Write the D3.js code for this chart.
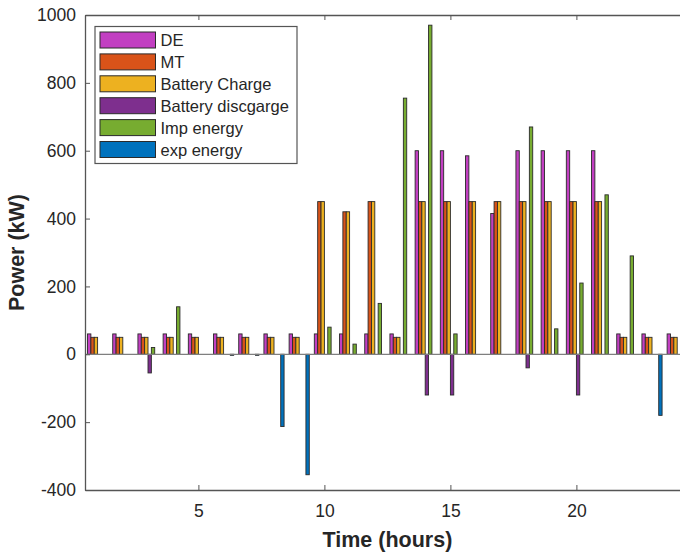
<!DOCTYPE html>
<html>
<head>
<meta charset="utf-8">
<script src="https://cdn.jsdelivr.net/npm/d3@7"></script>
<style>
  html, body { margin: 0; padding: 0; background: #fff; }
  svg text { font-family: "Liberation Sans", Arial, Helvetica, sans-serif; fill: #262626; }
</style>
</head>
<body>
<svg id="chart" width="680" height="554"></svg>
<script>
// Hourly power dispatch (kW), hours 1..24
const hours = d3.range(1, 25);
const seriesNames = ["DE", "MT", "Battery Charge", "Battery discgarge", "Imp energy", "exp energy"];
const seriesColors = ["#c23fc2", "#d95319", "#edb120", "#7e2f8e", "#77ac30", "#0072bd"];

const deValues   = [60, 60, 60, 60, 60, 60, 60, 60, 60, 60, 60, 60, 60, 600, 600, 585, 415, 600, 600, 600, 600, 60, 60, 60];
const mtValues   = [50, 50, 50, 50, 50, 50, 50, 50, 50, 450, 420, 450, 50, 450, 450, 450, 450, 450, 450, 450, 450, 50, 50, 50];
const chgValues  = [50, 50, 50, 50, 50, 50, 50, 50, 50, 450, 420, 450, 50, 450, 450, 450, 450, 450, 450, 450, 450, 50, 50, 50];
const disValues  = [0, 0, -55, 0, 0, 0, 0, 0, 0, 0, 0, 0, 0, -120, -120, 0, 0, -40, 0, -120, 0, 0, 0, 0];
const impValues  = [0, 0, 20, 140, 0, 0, 0, 0, 0, 80, 30, 150, 755, 970, 60, 0, 0, 670, 75, 210, 470, 290, 0, 0];
const expValues  = [0, 0, 0, 0, 0, -3, -3, -213, -355, 0, 0, 0, 0, 0, 0, 0, 0, 0, 0, 0, 0, 0, -180, 0];

const xTicks = [5, 10, 15, 20];
const yTicks = [-400, -200, 0, 200, 400, 600, 800, 1000];

const allSeries = [deValues, mtValues, chgValues, disValues, impValues, expValues];

const svg = d3.select("#chart");
const plotLeft = 85, plotRight = 689.8, plotTop = 15, plotBottom = 490;

const x = d3.scaleLinear().domain([0.5, 24.5]).range([plotLeft, plotRight]);
const y = d3.scaleLinear().domain([-400, 1000]).range([plotBottom, plotTop]);

// grouped bar geometry: group spans 0.8 of an hour, split evenly among series
const groupWidth = 0.8;
const slot = groupWidth / seriesNames.length;

const plot = svg.append("g");

allSeries.forEach((vals, si) => {
  plot.append("g")
    .selectAll("rect")
    .data(hours.map((h, i) => ({ h, v: vals[i] })).filter(d => d.v !== 0))
    .join("rect")
    .attr("x", d => x(d.h - groupWidth / 2 + si * slot))
    .attr("width", d => x(d.h - groupWidth / 2 + (si + 1) * slot) - x(d.h - groupWidth / 2 + si * slot))
    .attr("y", d => y(Math.max(0, d.v)))
    .attr("height", d => Math.abs(y(d.v) - y(0)))
    .attr("fill", seriesColors[si])
    .attr("stroke", "#2b2b2b")
    .attr("stroke-width", 0.9);
});

// baseline at zero
svg.append("line")
  .attr("x1", plotLeft).attr("x2", plotRight)
  .attr("y1", y(0)).attr("y2", y(0))
  .attr("stroke", "#7f7f7f").attr("stroke-width", 1.2);

// axes (ticks point inward), plain integer labels with ASCII minus
const plainNum = d => String(d);
const axisColor = "#555";
const yAxis = svg.append("g")
  .attr("transform", `translate(${plotLeft},0)`)
  .call(d3.axisLeft(y).tickValues(yTicks).tickFormat(plainNum).tickSizeInner(-5).tickSizeOuter(0).tickPadding(9));
const xAxis = svg.append("g")
  .attr("transform", `translate(0,${plotBottom})`)
  .call(d3.axisBottom(x).tickValues(xTicks).tickFormat(plainNum).tickSizeInner(-5).tickSizeOuter(0).tickPadding(15));
const xTop = svg.append("g")
  .attr("transform", `translate(0,${plotTop})`)
  .call(d3.axisTop(x).tickValues(xTicks).tickSizeInner(-5).tickSizeOuter(0).tickFormat(""));

[yAxis, xAxis, xTop].forEach(g => {
  g.select(".domain").attr("stroke", axisColor).attr("stroke-width", 1.3);
  g.selectAll(".tick line").attr("stroke", axisColor).attr("stroke-width", 1);
  g.selectAll(".tick text").attr("fill", "#262626").style("font-size", "17.5px")
    .style("font-family", "'Liberation Sans', Arial, sans-serif");
});
xTop.selectAll(".tick text").remove();

// axis titles
svg.append("text")
  .attr("x", (plotLeft + plotRight) / 2).attr("y", 547)
  .attr("text-anchor", "middle")
  .style("font-size", "21.5px").style("font-weight", "bold")
  .text("Time (hours)");
svg.append("text")
  .attr("transform", `translate(24,${(plotTop + plotBottom) / 2}) rotate(-90)`)
  .attr("text-anchor", "middle")
  .style("font-size", "21.5px").style("font-weight", "bold")
  .text("Power (kW)");

// legend
const legend = svg.append("g");
legend.append("rect")
  .attr("x", 95).attr("y", 26.5).attr("width", 202).attr("height", 137)
  .attr("fill", "#fff").attr("stroke", "#555").attr("stroke-width", 1.2);
seriesNames.forEach((name, i) => {
  const ry = 32 + i * 21.9;
  legend.append("rect")
    .attr("x", 100).attr("y", ry).attr("width", 55.5).attr("height", 16)
    .attr("fill", seriesColors[i]).attr("stroke", "#2b2b2b").attr("stroke-width", 1);
  legend.append("text")
    .attr("x", 160.5).attr("y", ry + 14)
    .style("font-size", "16.5px")
    .text(name);
});
</script>
</body>
</html>
